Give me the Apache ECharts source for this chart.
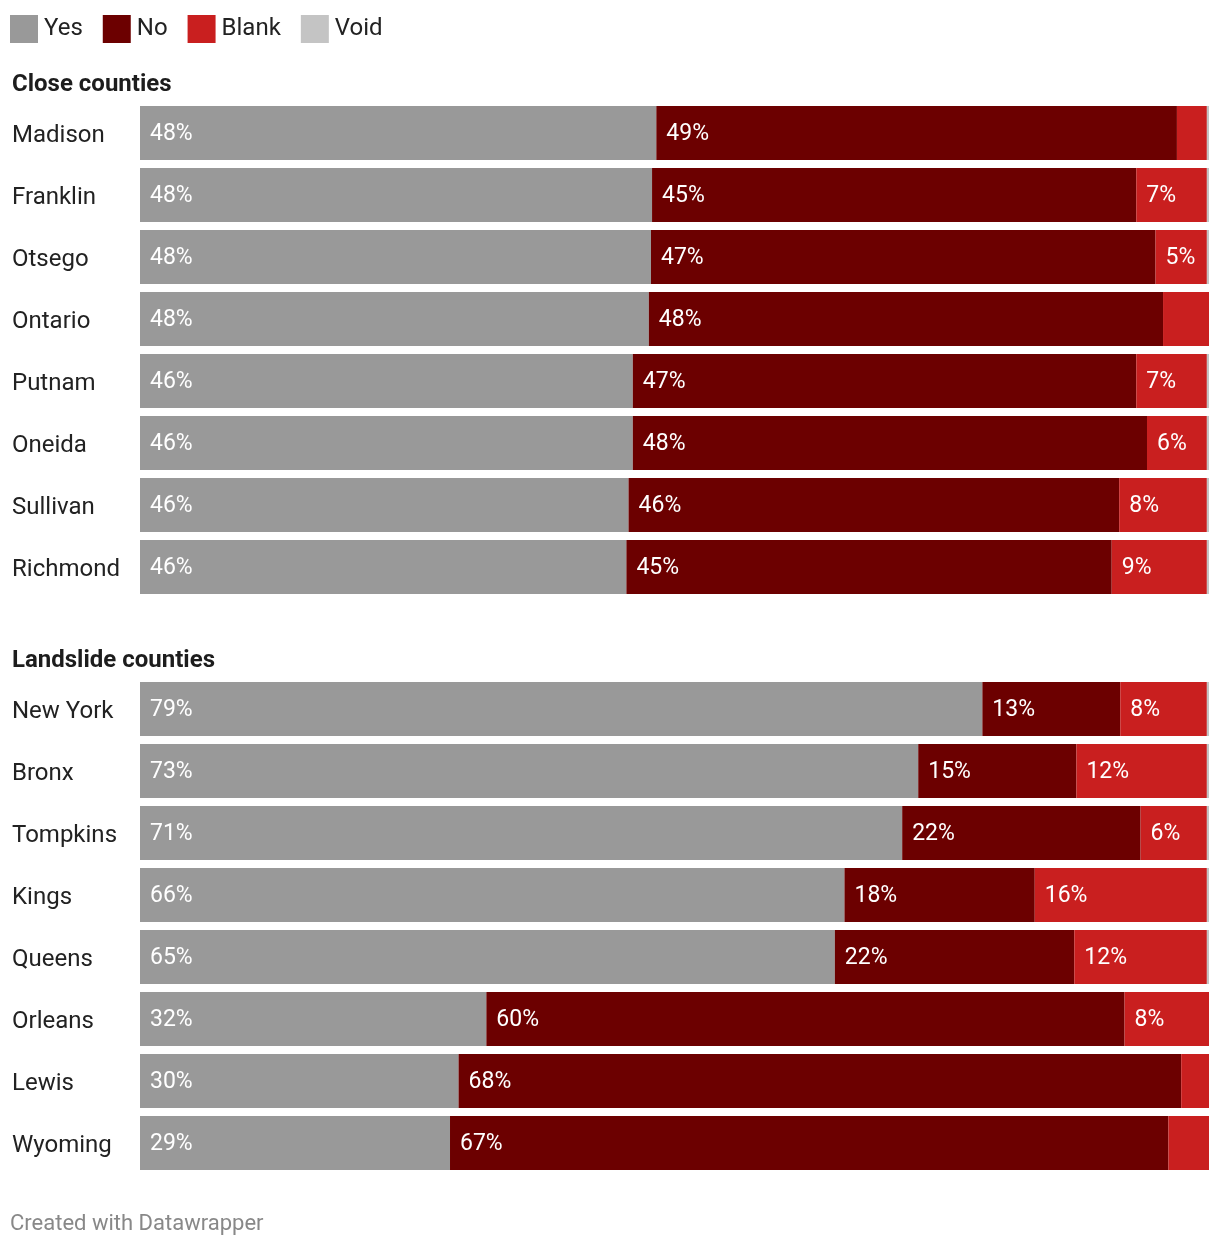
<!DOCTYPE html>
<html>
<head>
<meta charset="utf-8">
<script src="https://cdn.jsdelivr.net/npm/echarts@6/dist/echarts.min.js"></script>
<style>html,body{margin:0;padding:0;background:#fff;}#c{width:1220px;height:1248px;}</style>
</head>
<body>
<div id="c"></div>
<script>
var seriesNames = ['Yes', 'No', 'Blank', 'Void'];
var closeCounties = ['Madison', 'Franklin', 'Otsego', 'Ontario', 'Putnam', 'Oneida', 'Sullivan', 'Richmond'];
var closeYes   = [48.3, 47.9, 47.8, 47.6, 46.1, 46.1, 45.7, 45.5];
var closeNo    = [48.7, 45.3, 47.2, 48.1, 47.1, 48.1, 45.9, 45.4];
var closeBlank = [2.8, 6.6, 4.8, 4.3, 6.6, 5.6, 8.2, 8.9];
var closeVoid  = [0.2, 0.2, 0.2, 0.0, 0.2, 0.2, 0.2, 0.2];

var landCounties = ['New York', 'Bronx', 'Tompkins', 'Kings', 'Queens', 'Orleans', 'Lewis', 'Wyoming'];
var landYes   = [78.8, 72.8, 71.3, 65.9, 65.0, 32.4, 29.8, 29.0];
var landNo    = [12.9, 14.8, 22.3, 17.8, 22.4, 59.7, 67.6, 67.2];
var landBlank = [8.1, 12.2, 6.2, 16.1, 12.4, 7.9, 2.6, 3.8];
var landVoid  = [0.2, 0.2, 0.2, 0.2, 0.2, 0.0, 0.0, 0.0];

var colors = ['#999999', '#6c0000', '#c91f1f', '#c4c4c4'];
var FONT = 'Roboto, "Noto Sans", sans-serif';

var chart = echarts.init(document.getElementById('c'));

function mkSeries(gridIdx, arrs) {
  return arrs.map(function (arr, i) {
    return {
      name: seriesNames[i],
      type: 'bar',
      stack: 'g' + gridIdx,
      xAxisIndex: gridIdx,
      yAxisIndex: gridIdx,
      data: arr,
      barCategoryGap: '12.9%',
      itemStyle: { color: colors[i] },
      emphasis: { disabled: true },
      label: {
        show: true,
        position: 'insideLeft',
        distance: 10,
        offset: [0, 1],
        color: '#ffffff',
        fontFamily: FONT,
        fontSize: 23,
        formatter: function (p) { return p.value >= 4.5 ? Math.round(p.value) + '%' : ''; }
      }
    };
  });
}

function yAxis(gridIdx, cats) {
  return {
    type: 'category',
    gridIndex: gridIdx,
    data: cats,
    inverse: true,
    axisLine: { show: false },
    axisTick: { show: false },
    axisLabel: {
      align: 'left', margin: 128,
      formatter: function (v) { return '{n|' + v + '}'; },
      rich: { n: { color: '#222222', fontFamily: FONT, fontSize: 24, padding: [6, 0, 0, 0] } },
      color: '#222222', fontFamily: FONT, fontSize: 24
    }
  };
}
function xAxis(gridIdx) {
  return { type: 'value', gridIndex: gridIdx, min: 0, max: 100, show: false };
}

chart.setOption({
  animation: false,
  legend: {
    left: 5, top: 10,
    itemWidth: 28, itemHeight: 28, itemGap: 20,
    icon: 'rect',
    data: seriesNames,
    textStyle: { fontFamily: FONT, fontSize: 24, color: '#222222', padding: [0, 0, 0, 1] }
  },
  title: [
    { text: 'Close counties', left: 7, top: 68, textStyle: { fontFamily: FONT, fontSize: 24, fontWeight: 'bold', color: '#1d1d1d' } },
    { text: 'Landslide counties', left: 7, top: 644, textStyle: { fontFamily: FONT, fontSize: 24, fontWeight: 'bold', color: '#1d1d1d' } }
  ],
  grid: [
    { left: 140, right: 11, top: 102, height: 496 },
    { left: 140, right: 11, top: 678, height: 496 }
  ],
  xAxis: [xAxis(0), xAxis(1)],
  yAxis: [yAxis(0, closeCounties), yAxis(1, landCounties)],
  series: mkSeries(0, [closeYes, closeNo, closeBlank, closeVoid]).concat(
          mkSeries(1, [landYes, landNo, landBlank, landVoid])),
  graphic: [
    { type: 'text', left: 10, top: 1213, style: { text: 'Created with Datawrapper', fill: '#888888', font: '22px ' + FONT } }
  ]
});
</script>
</body>
</html>
